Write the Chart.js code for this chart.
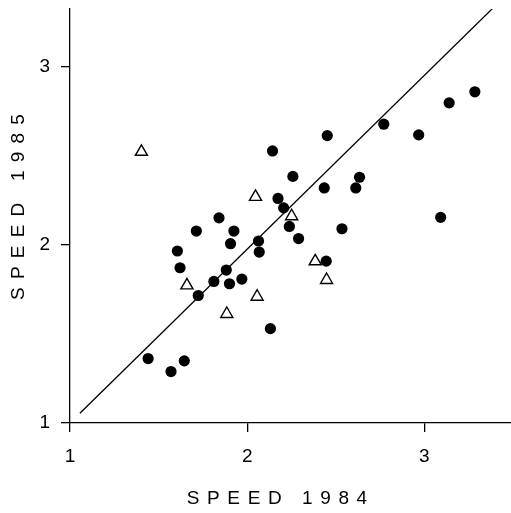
<!DOCTYPE html>
<html>
<head>
<meta charset="utf-8">
<script src="https://cdn.jsdelivr.net/npm/chart.js@4/dist/chart.umd.min.js"></script>
<style>
  html, body { margin: 0; padding: 0; background: #fff; }
  #wrap { width: 511px; height: 513px; }
</style>
</head>
<body>
<div id="wrap"><canvas id="c" width="511" height="513"></canvas></div>
<script>
// ---- data ----
const xTicks = [1, 2, 3];
const yTicks = [1, 2, 3];
const xTitle = "SPEED 1984";
const yTitle = "SPEED 1985";

// filled circles
const circleX = [1.441, 1.570, 1.645, 1.606, 1.621, 1.713, 1.724, 1.812, 1.841, 1.882,
                 1.900, 1.906, 1.925, 1.970, 2.064, 2.068, 2.131, 2.143, 2.174, 2.206,
                 2.238, 2.258, 2.290, 2.435, 2.446, 2.452, 2.535, 2.613, 2.634, 2.771,
                 2.968, 3.092, 3.140, 3.285];
const circleY = [1.362, 1.289, 1.349, 1.966, 1.872, 2.078, 1.716, 1.795, 2.152, 1.859,
                 1.782, 2.007, 2.078, 1.808, 2.022, 1.960, 1.530, 2.528, 2.261, 2.208,
                 2.104, 2.385, 2.036, 2.320, 1.909, 2.614, 2.091, 2.320, 2.380, 2.678,
                 2.618, 2.155, 2.798, 2.860];

// open triangles
const triX = [1.403, 1.660, 1.885, 2.047, 2.056, 2.251, 2.384, 2.448];
const triY = [2.523, 1.773, 1.612, 2.270, 1.709, 2.161, 1.908, 1.803];

// reference line
const lineX = [1.056, 3.393];
const lineY = [1.055, 3.336];

const toPts = (xs, ys) => xs.map((x, i) => ({ x: x, y: ys[i] }));

const FONT = "'Liberation Sans', 'DejaVu Sans', sans-serif";

const titlePlugin = {
  id: 'spacedTitles',
  afterDraw(chart) {
    const ctx = chart.ctx;
    ctx.save();
    ctx.fillStyle = '#000';
    ctx.font = '19px ' + FONT;
    ctx.textBaseline = 'middle';
    ctx.textAlign = 'center';
    // x title
    let sp = 7.6;
    ctx.letterSpacing = sp + 'px';
    ctx.fillText(chart.options.scales.x.title.text, 277 + sp / 2, 499);
    // y title
    sp = 8.2;
    ctx.letterSpacing = sp + 'px';
    ctx.translate(19, 207);
    ctx.rotate(-Math.PI / 2);
    ctx.fillText(chart.options.scales.y.title.text, sp / 2, 0);
    ctx.restore();
  }
};

const tickOpts = {
  color: '#000',
  font: { family: FONT, size: 19 },
  padding: 11
};
const gridOpts = {
  display: true,
  drawOnChartArea: false,
  drawTicks: true,
  tickLength: 9,
  color: '#000',
  lineWidth: 1.3
};
const borderOpts = { display: true, color: '#000', width: 1.3 };

const zeroPad = s => { s.paddingTop = 0; s.paddingBottom = 0; s.paddingLeft = 0; s.paddingRight = 0; };

new Chart(document.getElementById('c'), {
  type: 'scatter',
  data: {
    datasets: [
      {
        label: 'triangles',
        data: toPts(triX, triY),
        pointStyle: 'triangle',
        pointRadius: 7,
        pointHoverRadius: 7,
        pointBackgroundColor: '#fff',
        pointBorderColor: '#000',
        pointBorderWidth: 1.4,
        order: 0
      },
      {
        label: 'circles',
        data: toPts(circleX, circleY),
        pointStyle: 'circle',
        pointRadius: 5.6,
        pointHoverRadius: 5.6,
        pointBackgroundColor: '#000',
        pointBorderColor: '#000',
        pointBorderWidth: 0,
        order: 1
      },
      {
        label: 'line',
        data: toPts(lineX, lineY),
        showLine: true,
        borderColor: '#000',
        borderWidth: 1.3,
        pointRadius: 0,
        fill: false,
        order: 2
      }
    ]
  },
  options: {
    responsive: false,
    animation: false,
    devicePixelRatio: 1,
    layout: { autoPadding: false, padding: { top: 9, right: 0, left: 0, bottom: 0 } },
    plugins: { legend: { display: false }, tooltip: { enabled: false } },
    scales: {
      x: {
        type: 'linear',
        min: 1,
        max: 3.489,
        title: { display: false, text: xTitle },
        ticks: Object.assign({}, tickOpts, { padding: 13 }),
        grid: gridOpts,
        border: borderOpts,
        afterBuildTicks: s => { s.ticks = xTicks.map(v => ({ value: v })); },
        afterFit: s => { s.height = 90; zeroPad(s); }
      },
      y: {
        type: 'linear',
        min: 1,
        max: 3.325,
        title: { display: false, text: yTitle },
        ticks: tickOpts,
        grid: gridOpts,
        border: borderOpts,
        afterBuildTicks: s => { s.ticks = yTicks.map(v => ({ value: v })); },
        afterFit: s => { s.width = 70; zeroPad(s); }
      }
    }
  },
  plugins: [titlePlugin]
});
</script>
</body>
</html>
